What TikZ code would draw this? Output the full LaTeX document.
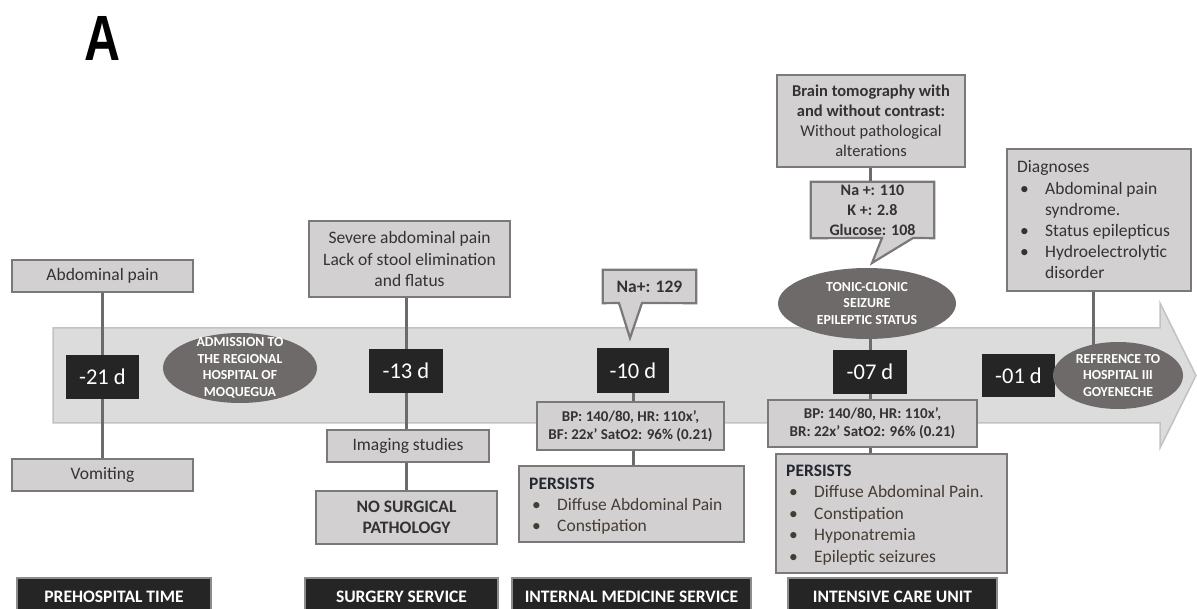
\documentclass[tikz,border=0pt]{standalone}
\usepackage{fontspec}
\setmainfont{Carlito}
\newfontfamily\afont{Liberation Sans}
\usetikzlibrary{shapes.geometric}
\definecolor{boxc}{HTML}{D2D0D0}
\definecolor{bordc}{HTML}{7A7878}
\definecolor{bandc}{HTML}{DCDCDC}
\definecolor{bandb}{HTML}{C2C2C2}
\definecolor{darkc}{HTML}{252525}
\definecolor{barb}{HTML}{8C8C8C}
\definecolor{ellc}{HTML}{6E6A6A}
\definecolor{linec}{HTML}{6C6A6A}
\definecolor{txtc}{HTML}{333333}
\definecolor{headc}{HTML}{232830}
\definecolor{itemc}{HTML}{453D35}
\newcommand{\fsz}[2]{\fontsize{#1}{#2}\selectfont}
\pgfdeclarelayer{bg}
\pgfdeclarelayer{lines}
\pgfsetlayers{bg,lines,main}
\begin{document}
\begin{tikzpicture}[x=1pt,y=-1pt,
  gbox/.style={draw=bordc, fill=boxc, line width=2.2pt, inner sep=0pt, align=center, text=txtc, font=\fsz{17.5}{21.3}},
  bpbox/.style={gbox, font=\bfseries\fsz{15}{17.7}},
  calloutshape/.style={draw=bordc, fill=boxc, line width=2.2pt},
  datebox/.style={fill=darkc, text=white, inner sep=0pt, minimum width=73pt, minimum height=44pt, font=\fsz{22.5}{26}},
  bar/.style={fill=darkc, draw=barb, line width=1.5pt, text=white, inner sep=0pt, minimum height=38pt, font=\bfseries\fsz{17.5}{21}},
  ell/.style={ellipse, fill=ellc, inner sep=0pt},
  elltext/.style={text=white, align=center, inner sep=0pt, font=\bfseries\fsz{13.8}{16.5}},
  conn/.style={draw=linec, line width=3pt},
  ln/.style={anchor=base west, inner sep=0pt, text=itemc, font=\fsz{17.5}{21}},
  lnhead/.style={ln, text=headc, font=\bfseries\fsz{17.5}{21}},
  lnplain/.style={ln, text=txtc}
]
\useasboundingbox (0,0) rectangle (1197,609);

% timeline band
\begin{pgfonlayer}{bg}
\fill[bandc, draw=bandb, line width=1.5pt] (53,328) -- (1160,328) -- (1160,303) -- (1196,375.5) -- (1160,448) -- (1160,423) -- (53,423) -- cycle;
\end{pgfonlayer}

% panel letter
\node[anchor=base, inner sep=0pt, font=\afont\bfseries\fsz{64}{64}] (lblA) at (102.5,61) {\scalebox{0.78}[1]{A}};

% ---------- prehospital ----------
\node[gbox, minimum width=181pt, minimum height=32pt] (abd) at (102.5,276) {Abdominal pain};
\node[datebox] (d21) at (102.5,377) {-21 d};
\node[gbox, minimum width=181pt, minimum height=32pt] (vom) at (102.5,475) {Vomiting};
\node[ell, minimum width=154pt, minimum height=70pt] (adm) at (240,368) {};
\node[elltext] (admt) at (adm.center) {ADMISSION TO\\THE REGIONAL\\HOSPITAL OF\\MOQUEGUA};

% ---------- surgery ----------
\node[gbox, minimum width=201pt, minimum height=76pt] (sev) at (409.5,259) {Severe abdominal pain\\Lack of stool elimination\\and flatus};
\node[datebox, minimum width=74pt] (d13) at (406,371) {-13 d};
\node[gbox, minimum width=162pt, minimum height=32pt] (img) at (408,446) {Imaging studies};
\node[gbox, minimum width=181pt, minimum height=53pt, font=\bfseries\fsz{17.5}{21}] (nosurg) at (406.5,517.5) {NO SURGICAL\\PATHOLOGY};

% ---------- internal medicine ----------
\node[inner sep=0pt, minimum width=93pt, minimum height=33pt, text=txtc, font=\bfseries\fsz{17.5}{21}] (na129) at (649.5,286.5) {Na+: 129};
\node[datebox, minimum width=72pt, minimum height=45pt] (d10) at (633,370.5) {-10 d};
\node[bpbox, minimum width=187pt, minimum height=48pt] (bp1) at (630.5,426) {BP: 140/80, HR: 110x’,\\BF: 22x’ SatO2: 96\% (0.21)};
\node[gbox, minimum width=225pt, minimum height=76pt] (pers1) at (631.5,504) {};
\node[lnhead] (p1h) at (529,489) {PERSISTS};
\node[ln] (p1b1) at (532,510.3) {•};
\node[ln] (p1i1) at (557,510.3) {Diffuse Abdominal Pain};
\node[ln] (p1b2) at (532,531.6) {•};
\node[ln] (p1i2) at (557,531.6) {Constipation};

% ---------- intensive care ----------
\node[gbox, minimum width=188pt, minimum height=92pt, font=\fsz{16.5}{20}] (brain) at (871,121) {\textbf{Brain tomography with}\\\textbf{and without contrast:}\\Without pathological\\alterations};
\node[inner sep=0pt, minimum width=123pt, minimum height=56pt, align=center, text=txtc, font=\bfseries\fsz{16}{20}] (nabox) at (872.5,210) {Na +: 110\\K +: 2.8\\Glucose: 108};
\node[ell, minimum width=178pt, minimum height=71pt] (tonic) at (867,303.5) {};
\node[elltext] (tonict) at (tonic.center) {TONIC-CLONIC\\SEIZURE\\EPILEPTIC STATUS};
\node[datebox, minimum width=74pt] (d07) at (870,372) {-07 d};
\node[bpbox, minimum width=209pt, minimum height=47pt] (bp2) at (872.5,423.5) {BP: 140/80, HR: 110x’,\\BR: 22x’ SatO2: 96\% (0.21)};
\node[gbox, minimum width=231pt, minimum height=119pt] (pers2) at (891.5,513.5) {};
\node[lnhead] (p2h) at (786,476) {PERSISTS};
\node[ln] (p2b1) at (789,497.5) {•};
\node[ln] (p2i1) at (814,497.5) {Diffuse Abdominal Pain.};
\node[ln] (p2b2) at (789,519) {•};
\node[ln] (p2i2) at (814,519) {Constipation};
\node[ln] (p2b3) at (789,540.5) {•};
\node[ln] (p2i3) at (814,540.5) {Hyponatremia};
\node[ln] (p2b4) at (789,562) {•};
\node[ln] (p2i4) at (814,562) {Epileptic seizures};

% ---------- referral ----------
\node[datebox, minimum width=73pt, minimum height=43pt] (d01) at (1018.5,375.5) {-01 d};
\node[ell, minimum width=130pt, minimum height=67pt] (refh) at (1118,375.5) {};
\node[elltext] (refht) at (refh.center) {REFERENCE TO\\HOSPITAL III\\GOYENECHE};
\node[gbox, minimum width=184pt, minimum height=142pt] (diag) at (1099,220) {};
\node[lnplain] (dg0) at (1017,173) {Diagnoses};
\node[lnplain] (dgb1) at (1020,194.2) {•};
\node[lnplain] (dg1) at (1045,194.2) {Abdominal pain};
\node[lnplain] (dg2) at (1045,215.4) {syndrome.};
\node[lnplain] (dgb3) at (1020,236.6) {•};
\node[lnplain] (dg3) at (1045,236.6) {Status epilepticus};
\node[lnplain] (dgb4) at (1020,257.8) {•};
\node[lnplain] (dg4) at (1045,257.8) {Hydroelectrolytic};
\node[lnplain] (dg5) at (1045,279) {disorder};
\coordinate (dgx) at (1093,0);

% ---------- service bars ----------
\node[bar, minimum width=194pt] (b1) at (114,597) {PREHOSPITAL TIME};
\node[bar, minimum width=193pt] (b2) at (401.5,597) {SURGERY SERVICE};
\node[bar, minimum width=239pt] (b3) at (631.5,597) {INTERNAL MEDICINE SERVICE};
\node[bar, minimum width=209pt] (b4) at (892.5,597) {INTENSIVE CARE UNIT};

% ---------- connectors and callouts ----------
\begin{pgfonlayer}{lines}
\draw[conn] (abd.south) -- (d21.north);
\draw[conn] (d21.south) -- (vom.north);
\draw[conn] (sev.south -| d13) -- (d13.north);
\draw[conn] (d13.south) -- (img.north -| d13);
\draw[conn] (img.south -| d13) -- (nosurg.north -| d13);
\draw[conn] (d10.south) -- (bp1.north -| d10);
\draw[conn] (bp1.south -| d10) -- (pers1.north -| d10);
\draw[conn] (brain.south -| d07) -- (nabox.north -| d07);
\draw[conn] (tonic.center -| d07) -- (d07.north);
\draw[conn] (d07.south) -- (bp2.north -| d07);
\draw[conn] (bp2.south -| d07) -- (pers2.north -| d07);
\draw[conn] (diag.south -| dgx) -- (refh.center -| dgx);
\draw[calloutshape] (na129.north west) -- (na129.north east) -- (na129.south east) -- (642,303) -- (630,338) -- (619,303) -- (na129.south west) -- cycle;
\draw[calloutshape] (nabox.north west) -- (nabox.north east) -- (nabox.south east) -- (913,238) -- (872,263) -- (882,238) -- (nabox.south west) -- cycle;
\end{pgfonlayer}
\end{tikzpicture}
\end{document}
